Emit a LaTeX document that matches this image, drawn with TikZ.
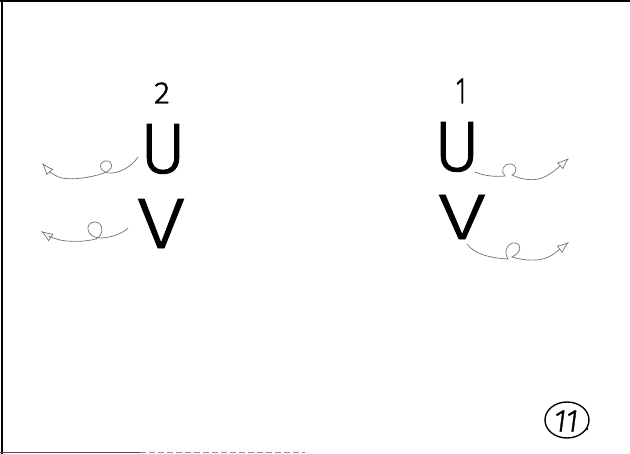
\documentclass[tikz,border=0pt]{standalone}
\usepackage{fontspec}
\usepackage{graphicx}
\usetikzlibrary{arrows.meta,shapes.geometric}
\newfontfamily\thinfont{Fira Sans Light}[FakeBold=1.2]
\tikzset{
  letter/.style={inner sep=0pt, outer sep=0pt, anchor=north west, text=black},
  digit/.style={inner sep=0pt, outer sep=0pt, text=black},
  sketcharrow/.style={draw=black!55, line width=0.7pt, line cap=round,
    -{Latex[open,length=12pt,width=9pt,line width=0.7pt]}},
  framebar/.style={draw=black, line width=2pt},
  stamp/.style={draw=black, line width=1.4pt, ellipse, minimum width=44pt, minimum height=36pt}
}
\begin{document}
\begin{tikzpicture}[x=1pt,y=-1pt]
\useasboundingbox (0,0) rectangle (630,454);
\fill[white] (0,0) rectangle (630,454);
% frame edges
\draw[framebar] (0,1.5) -- (630,1.5);
\draw[framebar] (1.5,0) -- (1.5,454);
\draw[draw=black!70, line width=1.5pt] (0,452.5) -- (140,452.5);
\draw[draw=black!45, line width=1.2pt, dash pattern=on 6pt off 3pt] (140,452.5) -- (305,452.5);

% group 2 (left)
\node[digit] (n2) at (162,93) {\resizebox{16pt}{21pt}{\thinfont 2}};
\node[letter] (uL) at (140,124) {\resizebox{46pt}{49pt}{\thinfont U}};
\node[letter] (vL) at (137,199) {\resizebox{48pt}{49pt}{\thinfont V}};

% group 1 (right)
\node[digit] (n1) at (461,91) {\resizebox{10pt}{25pt}{\thinfont 1}};
\node[letter] (uR) at (434,122) {\resizebox{46pt}{49pt}{\thinfont U}};
\node[letter] (vR) at (438,195) {\resizebox{48pt}{44pt}{\thinfont V}};

% arrow anchors
\coordinate (aUL) at (138,157);
\coordinate (tUL) at (42,163);
\coordinate (aVL) at (128,228);
\coordinate (tVL) at (41,231);
\coordinate (aUR) at (475,172);
\coordinate (tUR) at (569,158);
\coordinate (aVR) at (467,244);
\coordinate (tVR) at (569,242);

% left U arrow
\draw[sketcharrow] (aUL) .. controls (132,166) and (122,172) .. (112,173)
  .. controls (100,174) and (97,163) .. (105,161)
  .. controls (114,160) and (114,170) .. (104,173)
  .. controls (90,178) and (72,180) .. (62,178)
  .. controls (54,176) and (48,170) .. (tUL);
% left V arrow
\draw[sketcharrow] (aVL) .. controls (122,234) and (110,238) .. (100,238)
  .. controls (86,238) and (84,222) .. (95,222)
  .. controls (104,222) and (104,236) .. (96,239)
  .. controls (84,242) and (70,242) .. (60,240)
  .. controls (52,238) and (47,235) .. (tVL);
% right U arrow
\draw[sketcharrow] (aUR) .. controls (484,176) and (496,177) .. (505,176)
  .. controls (500,172) and (503,163) .. (511,164)
  .. controls (517,165) and (518,172) .. (512,175)
  .. controls (522,180) and (534,181) .. (542,178)
  .. controls (552,174) and (560,166) .. (tUR);
% right V arrow
\draw[sketcharrow] (aVR) .. controls (474,254) and (490,258) .. (508,259)
  .. controls (503,252) and (508,242) .. (515,243)
  .. controls (522,244) and (522,252) .. (512,257)
  .. controls (525,261) and (538,261) .. (546,258)
  .. controls (554,255) and (560,249) .. (tVR);

% stamp
\node[stamp] (st) at (567,420) {};
\node[digit] (num) at (566,421) {\resizebox{24pt}{21pt}{\thinfont\itshape 11}};
\fill[black] (587,429) circle (1.3pt);
\end{tikzpicture}
\end{document}
